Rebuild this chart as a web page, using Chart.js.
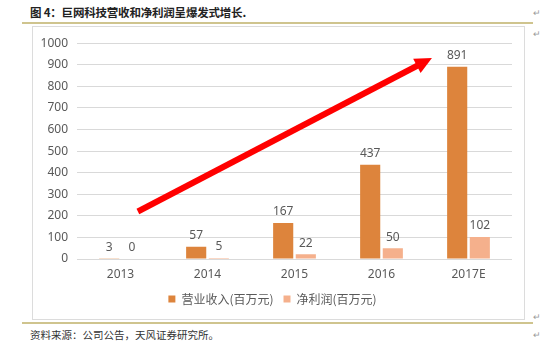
<!DOCTYPE html>
<html>
<head>
<meta charset="utf-8">
<script src="https://cdn.jsdelivr.net/npm/chart.js@4/dist/chart.umd.min.js"></script>
<style>
  html, body { margin:0; padding:0; background:#fff; }
  body { width:550px; height:357px; position:relative; overflow:hidden; font-family:"Noto Sans CJK SC", "Noto Sans", sans-serif; }
  #title { position:absolute; left:30px; top:4px; font-size:11.5px; font-weight:bold; color:#222; white-space:nowrap; letter-spacing:-0.2px; }
  .rule { position:absolute; left:22px; width:511px; height:2px; background:#cfc48e; }
  #box { position:absolute; left:32px; top:26px; width:491px; height:292px; border:1px solid #dcdcdc; }
  #wrap { position:absolute; left:0; top:0; width:491px; height:292px; }
  #foot { position:absolute; left:30px; top:327px; font-size:10.5px; color:#333; white-space:nowrap; }
  .pm { position:absolute; left:533px; font-size:9px; color:#9a9a9a; }
</style>
</head>
<body>
<div id="title">图 4：巨网科技营收和净利润呈爆发式增长.</div>
<div class="rule" style="top:22px"></div>
<div class="pm" style="top:6px">↵</div>
<div class="pm" style="top:27px">↵</div>
<div id="box"><div id="wrap"><canvas id="c"></canvas></div></div>
<div class="rule" style="top:322px"></div>
<div class="pm" style="top:310px">↵</div>
<div class="pm" style="top:328px">↵</div>
<div id="foot">资料来源：公司公告，天风证券研究所。</div>
<script>
// ---- data ----
const categories = ["2013", "2014", "2015", "2016", "2017E"];
const revenue = [3, 57, 167, 437, 891];
const netProfit = [0, 5, 22, 50, 102];
const seriesNames = ["营业收入(百万元)", "净利润(百万元)"];
const yTicks = [0, 100, 200, 300, 400, 500, 600, 700, 800, 900, 1000];
// trend arrow annotation in data space: [category index, value]
const arrowFrom = [0.2, 220];
const arrowTo = [3.58, 931];

const valueLabels = {
  id: 'valueLabels',
  afterDatasetsDraw(chart) {
    const ctx = chart.ctx;
    ctx.save();
    ctx.font = '12px "Noto Sans", sans-serif';
    ctx.fillStyle = '#595959';
    ctx.textAlign = 'center';
    ctx.textBaseline = 'bottom';
    chart.data.datasets.forEach((ds, i) => {
      chart.getDatasetMeta(i).data.forEach((bar, j) => {
        ctx.fillText(String(ds.data[j]), bar.x, bar.y - 5);
      });
    });
    ctx.restore();
  }
};

const trendArrow = {
  id: 'trendArrow',
  afterDraw(chart) {
    const xs = chart.scales.x, ys = chart.scales.y;
    const x0 = xs.getPixelForValue(arrowFrom[0]), y0 = ys.getPixelForValue(arrowFrom[1]);
    const x1 = xs.getPixelForValue(arrowTo[0]), y1 = ys.getPixelForValue(arrowTo[1]);
    const ang = Math.atan2(y1 - y0, x1 - x0);
    const headLen = 17, headW = 8;
    const bx = x1 - headLen * Math.cos(ang), by = y1 - headLen * Math.sin(ang);
    const ctx = chart.ctx;
    ctx.save();
    ctx.strokeStyle = '#ff0000';
    ctx.fillStyle = '#ff0000';
    ctx.lineWidth = 6;
    ctx.lineCap = 'butt';
    ctx.beginPath();
    ctx.moveTo(x0, y0);
    ctx.lineTo(bx + 2 * Math.cos(ang), by + 2 * Math.sin(ang));
    ctx.stroke();
    ctx.beginPath();
    ctx.moveTo(x1, y1);
    ctx.lineTo(bx + headW * Math.sin(ang), by - headW * Math.cos(ang));
    ctx.lineTo(bx - headW * Math.sin(ang), by + headW * Math.cos(ang));
    ctx.closePath();
    ctx.fill();
    ctx.restore();
  }
};

new Chart(document.getElementById('c'), {
  type: 'bar',
  data: {
    labels: categories,
    datasets: [
      { label: seriesNames[0], data: revenue, backgroundColor: '#dd843c', categoryPercentage: 0.52, barPercentage: 0.89 },
      { label: seriesNames[1], data: netProfit, backgroundColor: '#f5b08c', categoryPercentage: 0.52, barPercentage: 0.89 }
    ]
  },
  options: {
    responsive: true,
    maintainAspectRatio: false,
    animation: false,
    layout: { padding: { top: 13, right: 12, bottom: 4, left: 0 } },
    plugins: {
      legend: {
        position: 'bottom',
        labels: {
          boxWidth: 7, boxHeight: 7, padding: 10,
          color: '#595959',
          font: { size: 12, family: '"Noto Sans CJK SC", sans-serif' }
        }
      },
      tooltip: { enabled: false }
    },
    scales: {
      x: {
        afterFit(scale) { scale.height = 24; },
        grid: { display: false, drawTicks: false },
        border: { display: false },
        ticks: { color: '#595959', padding: 8, font: { size: 12, family: '"Noto Sans", sans-serif' } }
      },
      y: {
        min: 0, max: 1000,
        afterBuildTicks(scale) { scale.ticks = yTicks.map(v => ({ value: v })); },
        afterFit(scale) { scale.width = 44; },
        grid: { color: '#d9d9d9', drawTicks: false },
        border: { display: false },
        ticks: { color: '#595959', padding: 9, font: { size: 12, family: '"Noto Sans", sans-serif' }, callback: (v) => String(v) }
      }
    }
  },
  plugins: [valueLabels, trendArrow]
});
</script>
</body>
</html>
